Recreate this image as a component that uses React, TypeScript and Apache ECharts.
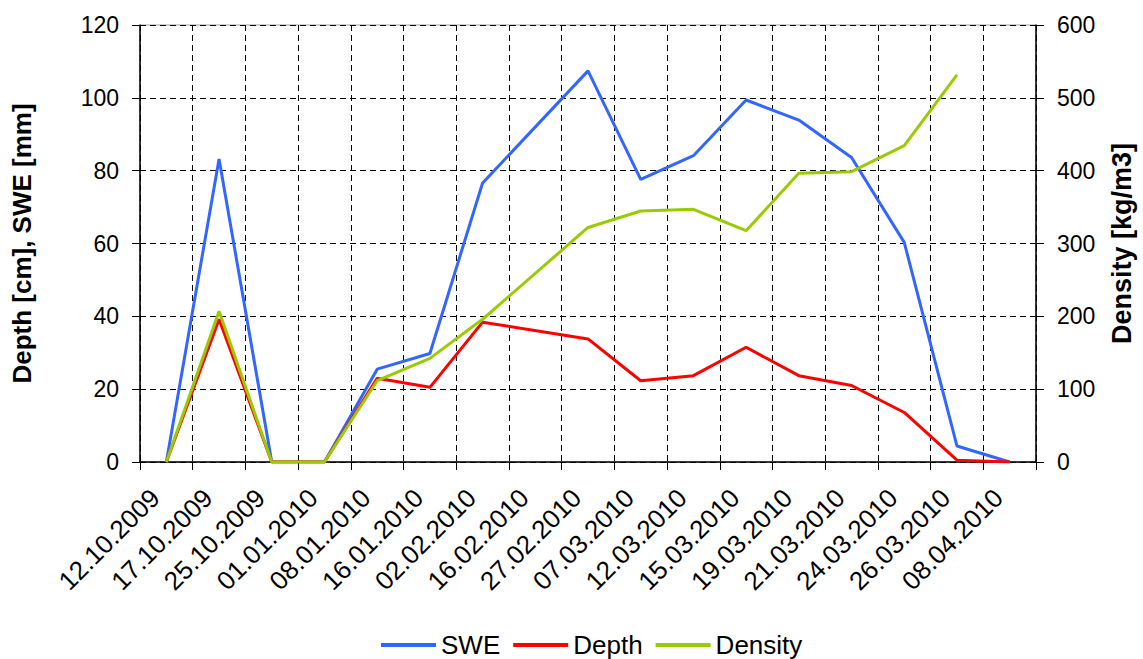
import React, { useEffect, useRef } from "react";
import * as echarts from "echarts";

const categories = [
  "12.10.2009", "17.10.2009", "25.10.2009", "01.01.2010", "08.01.2010",
  "16.01.2010", "02.02.2010", "16.02.2010", "27.02.2010", "07.03.2010",
  "12.03.2010", "15.03.2010", "19.03.2010", "21.03.2010", "24.03.2010",
  "26.03.2010", "08.04.2010",
];
const swe = [0, 83.2, 0, 0, 25.5, 29.8, 76.6, null, 107.4, 77.6, 84.1, 99.4, 93.9, 83.6, 60.3, 4.4, 0];
const depth = [0, 39.2, 0, 0, 23.0, 20.5, 38.4, null, 33.8, 22.3, 23.7, 31.5, 23.7, 21.0, 13.6, 0.5, 0];
const density = [0, 207, 0, 0, 111.6, 142.3, 196, null, 322, 344.6, 347, 317.6, 396.4, 398.6, 434.3, 531.4, null];

const FONT = "'Liberation Sans', Arial, sans-serif";

export default function App() {
  const ref = useRef<HTMLDivElement>(null);
  useEffect(() => {
    const chart = echarts.init(ref.current!, null, { renderer: "svg" });
    const dashed = { show: true, lineStyle: { color: "#000", type: [6, 4], width: 1 } };
    chart.setOption({
      animation: false,
      textStyle: { fontFamily: FONT },
      grid: {
        left: 140, right: 107, top: 25, bottom: 197,
        show: true, borderColor: "#a0a0a0", borderWidth: 1,
      },
      legend: {
        bottom: -4, left: 376,
        icon: "rect",
        itemWidth: 55, itemHeight: 4, itemGap: 13,
        textStyle: { fontSize: 26, color: "#000", fontFamily: FONT },
        data: ["SWE", "Depth", "Density"],
      },
      xAxis: {
        type: "category",
        data: categories,
        boundaryGap: true,
        axisLine: { lineStyle: { color: "#000", width: 1.5 } },
        axisTick: { show: true, alignWithLabel: false, length: 8, lineStyle: { color: "#000" } },
        axisLabel: {
          rotate: 45, fontSize: 26, color: "#000", margin: 20, interval: 0,
          padding: [0, 16, 0, 0],
        },
        splitLine: { ...dashed, interval: 0 },
      },
      yAxis: [
        {
          type: "value", min: 0, max: 120, interval: 20,
          name: "Depth [cm], SWE [mm]", nameLocation: "middle", nameGap: 105,
          nameTextStyle: { fontSize: 26, fontWeight: "bold", color: "#000" },
          axisLine: { show: true, lineStyle: { color: "#000", width: 1.5 } },
          axisTick: { show: true, length: 8, lineStyle: { color: "#000" } },
          axisLabel: { fontSize: 23, color: "#000", margin: 21 },
          splitLine: dashed,
        },
        {
          type: "value", min: 0, max: 600, interval: 100,
          name: "Density [kg/m3]", nameLocation: "middle", nameGap: 72,
          nameTextStyle: { fontSize: 27, fontWeight: "bold", color: "#000" },
          axisLine: { show: true, lineStyle: { color: "#000", width: 1.5 } },
          axisTick: { show: true, length: 8, lineStyle: { color: "#000" } },
          axisLabel: { fontSize: 23, color: "#000", margin: 21 },
          splitLine: { show: false },
        },
      ],
      series: [
        {
          name: "SWE", type: "line", data: swe, yAxisIndex: 0,
          symbol: "none", connectNulls: true,
          lineStyle: { color: "#3366FF", width: 3 }, itemStyle: { color: "#3366FF" },
        },
        {
          name: "Depth", type: "line", data: depth, yAxisIndex: 0,
          symbol: "none", connectNulls: true,
          lineStyle: { color: "#FF0000", width: 3 }, itemStyle: { color: "#FF0000" },
        },
        {
          name: "Density", type: "line", data: density, yAxisIndex: 1,
          symbol: "none", connectNulls: true,
          lineStyle: { color: "#99CC00", width: 3 }, itemStyle: { color: "#99CC00" },
        },
      ],
    });
    return () => chart.dispose();
  }, []);
  return <div ref={ref} style={{ width: 1143, height: 659, position: "absolute", left: 0, top: 0 }} />;
}
